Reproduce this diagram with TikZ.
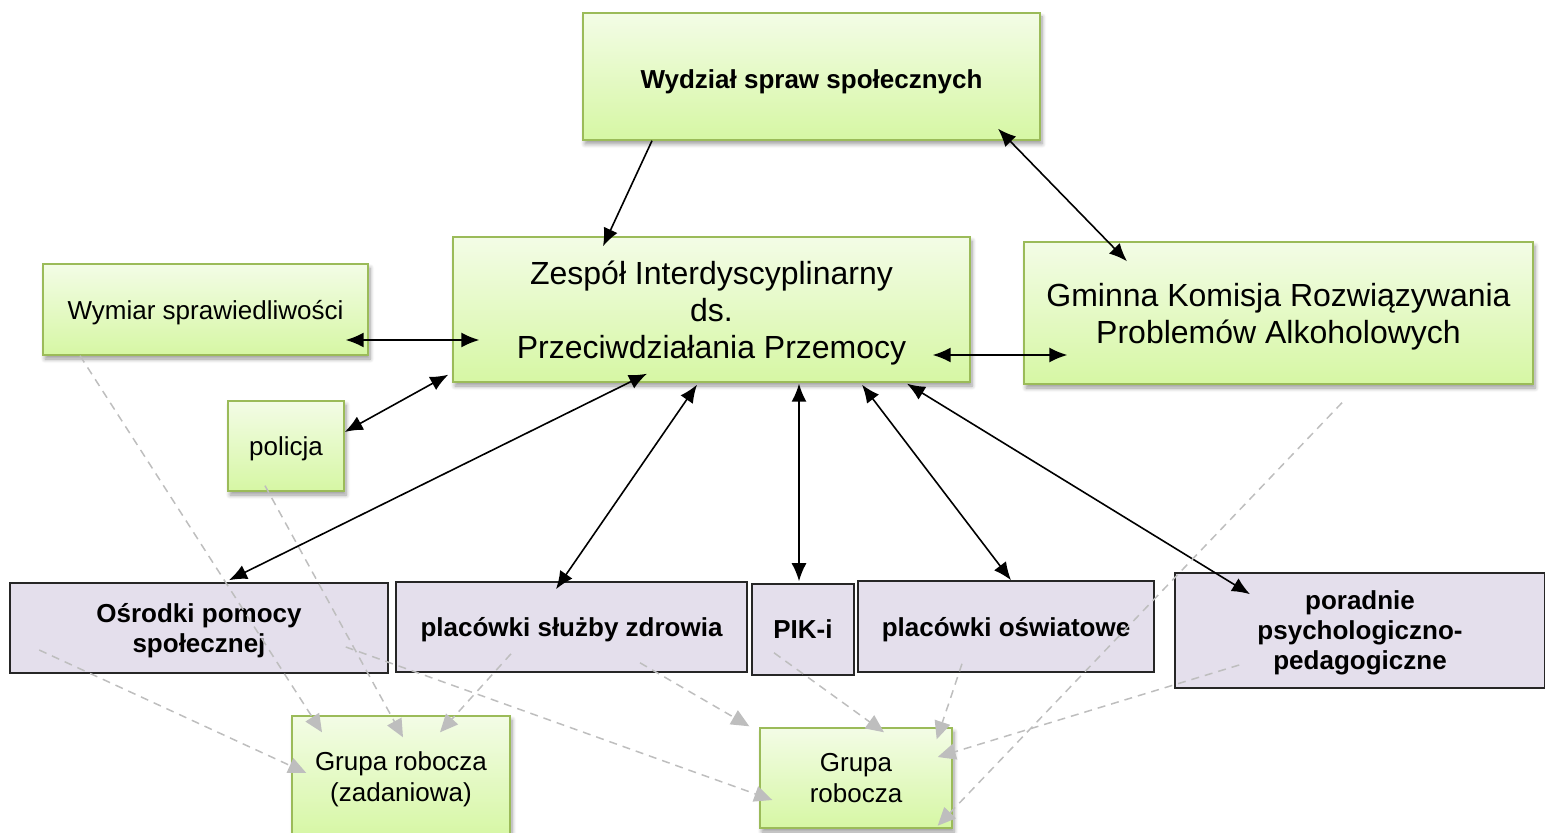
\documentclass[tikz,border=0pt]{standalone}
\usepackage{fontspec}
\setmainfont{Liberation Sans}
\usepackage{xcolor}
\usepackage{tikz}
\definecolor{leafgreen}{RGB}{155, 187, 89}
\definecolor{lighttop}{RGB}{243, 252, 230}
\definecolor{lightbottom}{RGB}{214, 247, 164}
\definecolor{lavender}{RGB}{228, 223, 236}
\definecolor{dashgray}{RGB}{190, 190, 190}
\usetikzlibrary{shapes,arrows.meta,positioning,calc,shadows.blur}

\begin{document}
\begin{tikzpicture}[
    x=0.5pt, y=-0.5pt,
    greenbox/.style={
        rectangle,
        draw=leafgreen,
        line width=0.7pt,
        top color=lighttop,
        bottom color=lightbottom,
        blur shadow={shadow xshift=1pt, shadow yshift=-2pt, shadow blur steps=6, shadow opacity=40},
        align=center,
        inner sep=0pt,
        text depth=0pt
    },
    purplebox/.style={
        rectangle,
        draw=black!85,
        line width=0.8pt,
        fill=lavender,
        align=center,
        inner sep=0pt,
        text depth=0pt,
        font=\fontsize{13}{15}\selectfont\bfseries
    },
    bigtext/.style={font=\fontsize{16}{18.5}\selectfont},
    smalltext/.style={font=\fontsize{13}{15.5}\selectfont},
    link/.style={line width=0.8pt, -{Latex[length=9pt,width=7.5pt]}},
    both/.style={line width=0.8pt, {Latex[length=9pt,width=7.5pt]}-{Latex[length=9pt,width=7.5pt]}},
    dashlink/.style={dashgray, line width=0.75pt, dash pattern=on 4pt off 3pt,
        -{Triangle[length=9pt,width=8pt]}}
]
    \useasboundingbox (0,0) rectangle (1545,833);

    % Upper level
    \node[greenbox, minimum width=228.5pt, minimum height=63.5pt, text height=12.5pt,
          font=\fontsize{13}{15}\selectfont\bfseries] (wydzial) at (811.5,76.5) {Wydział spraw społecznych};
    \node[greenbox, bigtext, minimum width=258.5pt, minimum height=72.5pt] (zespol) at (711.5,309.5)
        {Zespół Interdyscyplinarny\\ds.\\Przeciwdziałania Przemocy};
    \node[greenbox, bigtext, minimum width=254.5pt, minimum height=71pt] (gminna) at (1278.5,313)
        {Gminna Komisja Rozwiązywania\\Problemów Alkoholowych};
    \node[greenbox, smalltext, minimum width=162.5pt, minimum height=45.5pt] (wymiar) at (205.5,309.5) {Wymiar sprawiedliwości};
    \node[greenbox, smalltext, minimum width=58pt, minimum height=45pt] (policja) at (286,446) {policja};

    % Institutions
    \node[purplebox, minimum width=189pt, minimum height=45pt] (osrodki) at (199,628) {Ośrodki pomocy\\społecznej};
    \node[purplebox, minimum width=175.5pt, minimum height=45pt] (sluzba) at (571.5,627) {placówki służby zdrowia};
    \node[purplebox, minimum width=51pt, minimum height=45.5pt] (pik) at (803,629.5) {PIK-i};
    \node[purplebox, minimum width=148pt, minimum height=45.5pt] (oswiatowe) at (1006,626.5) {placówki oświatowe};
    \node[purplebox, minimum width=185pt, minimum height=57.5pt] (poradnie) at (1360,630.5)
        {poradnie\\psychologiczno-\\pedagogiczne};

    % Working groups
    \node[greenbox, smalltext, minimum width=109pt, minimum height=61pt] (grupa1) at (401,777) {Grupa robocza\\(zadaniowa)};
    \node[greenbox, smalltext, minimum width=96pt, minimum height=50pt] (grupa2) at (856,778) {Grupa\\robocza};

    % Solid connections
    \draw[link] ($(wydzial.south)+(-159.5,0)$) -- ($(zespol.north)+(-108.5,10)$);
    \draw[both] ($(wydzial.south)+(186.5,-12)$) -- ($(gminna.north)+(-151.5,20)$);
    \draw[both] ($(wymiar.east)+(-23,30.5)$) -- ($(zespol.west)+(27,30.5)$);
    \draw[both] ($(policja.east)+(0,-14)$) -- ($(zespol.south west)+(-4,-8)$);
    \draw[both] ($(zespol.south)+(-64.5,-9)$) -- ($(osrodki.north)+(30,-2)$);
    \draw[both] ($(zespol.south)+(-14.5,2)$) -- ($(sluzba.north)+(-15.5,8)$);
    \draw[both] ($(zespol.south)+(87.5,1)$) -- ($(pik.north)+(-4,-2)$);
    \draw[both] ($(zespol.south)+(150.5,2)$) -- ($(oswiatowe.north)+(5,0)$);
    \draw[both] ($(zespol.south)+(195.5,1)$) -- ($(poradnie.north)+(-110,22)$);
    \draw[both] ($(zespol.east)+(-38,45.5)$) -- ($(gminna.west)+(44,42)$);

    % Dashed connections to working groups
    \draw[dashlink] ($(wymiar.south)+(-125.5,0)$) -- ($(grupa1.north)+(-79,17)$);
    \draw[dashlink] ($(policja.south)+(-21,-6)$) -- ($(grupa1.north)+(2,22)$);
    \draw[dashlink] ($(osrodki.west)+(30,22)$) -- ($(grupa1.west)+(15,-4)$);
    \draw[dashlink] ($(sluzba.south)+(-60.5,-19)$) -- ($(grupa1.north)+(39,17)$);
    \draw[dashlink] ($(osrodki.east)+(-43,19)$) -- ($(grupa2.west)+(13,22)$);
    \draw[dashlink] ($(sluzba.south)+(68.5,-10)$) -- ($(grupa2.north west)+(-10,-1)$);
    \draw[dashlink] ($(pik.south)+(-29,-23)$) -- ($(grupa2.north)+(28,5)$);
    \draw[dashlink] ($(oswiatowe.south)+(-44,-9)$) -- ($(grupa2.north east)+(-16,12)$);
    \draw[dashlink] ($(poradnie.west)+(65,34.5)$) -- ($(grupa2.east)+(-15,-21)$);
    \draw[dashlink] ($(gminna.south)+(63.5,18)$) -- ($(grupa2.south east)+(-15,-3)$);
\end{tikzpicture}
\end{document}
